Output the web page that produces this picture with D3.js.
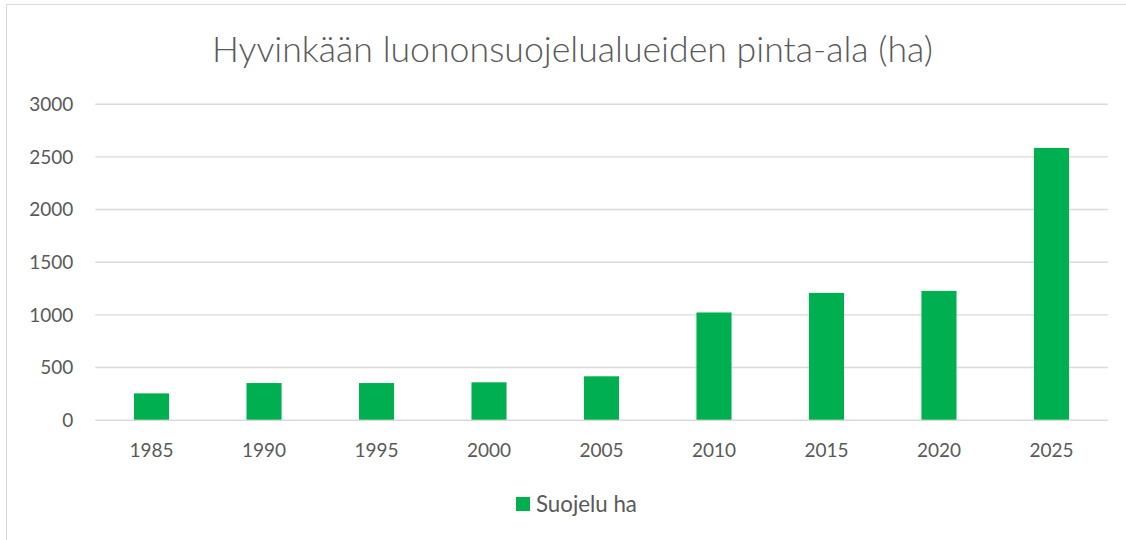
<!DOCTYPE html>
<html>
<head>
<meta charset="utf-8">
<script src="https://cdn.jsdelivr.net/npm/d3@7"></script>
<style>
  html, body { margin: 0; padding: 0; background: #fff; }
  svg { display: block; }
  text { font-family: Lato, "Open Sans", sans-serif; }
</style>
</head>
<body>
<svg id="chart" width="1126" height="540"></svg>
<script>
const title = "Hyvinkään luononsuojelualueiden pinta-ala (ha)";
const seriesName = "Suojelu ha";
const categories = ["1985", "1990", "1995", "2000", "2005", "2010", "2015", "2020", "2025"];
const values = [250, 348, 348, 355, 412, 1018, 1204, 1223, 2580];
const yTicks = [0, 500, 1000, 1500, 2000, 2500, 3000];

const svg = d3.select("#chart");
const W = 1126, H = 540;
const margin = { left: 95.3, right: 1126 - 1107.7, top: 103.7, bottom: 540 - 419.7 };

// outer chart border
svg.append("rect")
  .attr("x", 6.5).attr("y", 4.5)
  .attr("width", 1200).attr("height", 600)
  .attr("fill", "#fff").attr("stroke", "#d9d9d9").attr("stroke-width", 1);

const x = d3.scaleBand()
  .domain(categories)
  .range([margin.left, W - margin.right])
  .paddingInner(0.688).paddingOuter(0.344);

const y = d3.scaleLinear()
  .domain([0, 3000])
  .range([H - margin.bottom, margin.top]);

// gridlines
const yAxis = d3.axisLeft(y).tickValues(yTicks).tickFormat(d3.format("d"))
  .tickSize(-(W - margin.left - margin.right)).tickPadding(22);
const gy = svg.append("g")
  .attr("transform", `translate(${margin.left},0)`)
  .call(yAxis);
gy.select(".domain").remove();
gy.selectAll(".tick line").attr("stroke", "#d9d9d9").attr("stroke-width", 1.4);
gy.selectAll(".tick text")
  .attr("fill", "#595959").attr("font-size", 19).attr("dy", "0.35em");

// bars
svg.append("g").selectAll("rect")
  .data(values)
  .join("rect")
  .attr("x", (d, i) => x(categories[i]))
  .attr("width", x.bandwidth())
  .attr("y", d => y(d))
  .attr("height", d => y(0) - y(d))
  .attr("fill", "#00b050");

// x axis labels
const xAxis = d3.axisBottom(x).tickSize(0).tickPadding(31);
const gx = svg.append("g")
  .attr("transform", `translate(0,${y(0)})`)
  .call(xAxis);
gx.select(".domain").remove();
gx.selectAll(".tick text")
  .attr("fill", "#595959").attr("font-size", 19).attr("dy", "0.35em");

function fit(sel, targetWidth) {
  const w = sel.node().getComputedTextLength();
  const fs = parseFloat(sel.attr("font-size"));
  sel.attr("font-size", fs * targetWidth / w);
}

// title
const t = svg.append("text")
  .attr("x", 572.5).attr("y", 50)
  .attr("text-anchor", "middle").attr("dy", "0.35em")
  .attr("fill", "#595959").attr("font-size", 30).attr("font-weight", 300)
  .text(title);
fit(t, 721);

// legend
svg.append("rect")
  .attr("x", 516).attr("y", 497).attr("width", 14).attr("height", 14)
  .attr("fill", "#00b050");
const lt = svg.append("text")
  .attr("x", 536).attr("y", 504.5).attr("dy", "0.35em")
  .attr("fill", "#595959").attr("font-size", 17)
  .text(seriesName);
fit(lt, 101);
</script>
</body>
</html>
